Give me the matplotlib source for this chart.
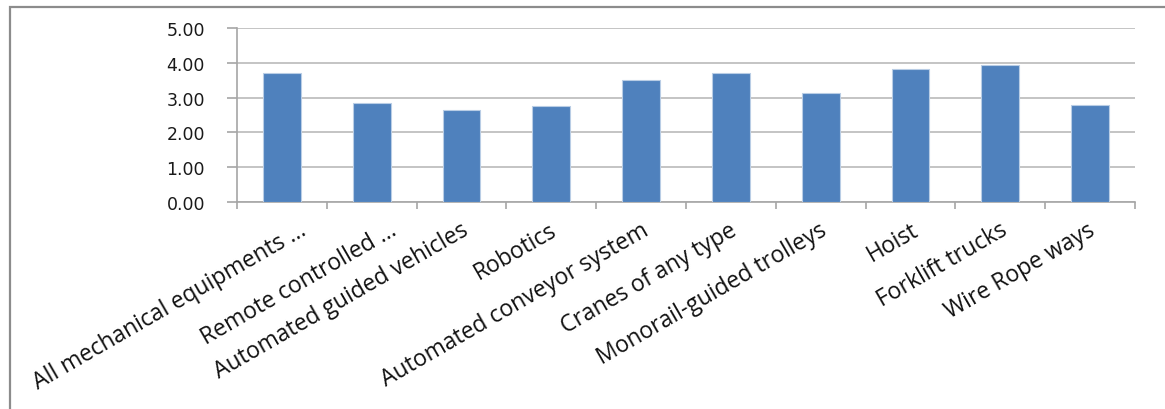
import matplotlib
matplotlib.use("Agg")
import matplotlib.pyplot as plt
import matplotlib.transforms as mtransforms
from matplotlib.patches import Rectangle
import numpy as np

categories = [
    "All mechanical equipments \u2026",
    "Remote controlled \u2026",
    "Automated guided vehicles",
    "Robotics",
    "Automated conveyor system",
    "Cranes of any type",
    "Monorail-guided trolleys",
    "Hoist",
    "Forklift trucks",
    "Wire Rope ways",
]
scores = [3.70, 2.84, 2.64, 2.77, 3.50, 3.70, 3.12, 3.83, 3.93, 2.80]
y_ticks = [0.0, 1.0, 2.0, 3.0, 4.0, 5.0]

# horizontal nudge (pixels) of each slanted label's end relative to its bar
label_shift_px = [23, 23, 5, 4, 6, 4, 4, 6, 5, 3]

W, H = 1165, 410
DPI = 100
fig = plt.figure(figsize=(W / DPI, H / DPI), dpi=DPI)

# chart-area frame, running off the right and bottom edges
frame = Rectangle((10 / W, -0.05), 1.2, 1 - 8 / H + 0.05, transform=fig.transFigure,
                  fill=False, edgecolor="#8c8c8c", linewidth=1.6, clip_on=False)
fig.patches.append(frame)

ax = fig.add_axes([237 / W, 1 - 203 / H, (1135 - 237) / W, (203 - 29) / H])

x = np.arange(len(categories))
ax.bar(x, scores, width=0.42, color="#4f81bd", edgecolor="#b9cde5", linewidth=0.8, zorder=3)

ax.set_xlim(-0.5, len(categories) - 0.5)
ax.set_ylim(0, 5)
ax.set_yticks(y_ticks)
ax.set_yticklabels([f"{v:.2f}" for v in y_ticks], fontfamily="DejaVu Sans", fontsize=12.5,
                   color="#1a1a1a")
ax.yaxis.grid(True, color="#c4c4c4", linewidth=1.4, zorder=0)
ax.set_axisbelow(True)

for side in ("top", "right"):
    ax.spines[side].set_visible(False)
for side in ("left", "bottom"):
    ax.spines[side].set_color("#a6a6a6")
    ax.spines[side].set_linewidth(1.2)

ax.tick_params(axis="y", length=7, width=1.2, color="#a6a6a6", pad=16)
# category ticks sit between the bars
ax.set_xticks(np.arange(len(categories) + 1) - 0.5)
ax.set_xticklabels([])
ax.tick_params(axis="x", length=5, width=1.2, color="#a6a6a6")

# slanted category labels
trans = mtransforms.blended_transform_factory(ax.transData, ax.transAxes)
for i, name in enumerate(categories):
    off = mtransforms.ScaledTranslation(label_shift_px[i] / DPI, -26 / DPI, fig.dpi_scale_trans)
    ax.text(i, 0, name, transform=trans + off, rotation=30,
            rotation_mode="anchor", ha="right", va="center",
            fontfamily="Open Sans", fontsize=16.5, color="#111111")

fig.savefig("out.png", dpi=DPI, facecolor="white")
